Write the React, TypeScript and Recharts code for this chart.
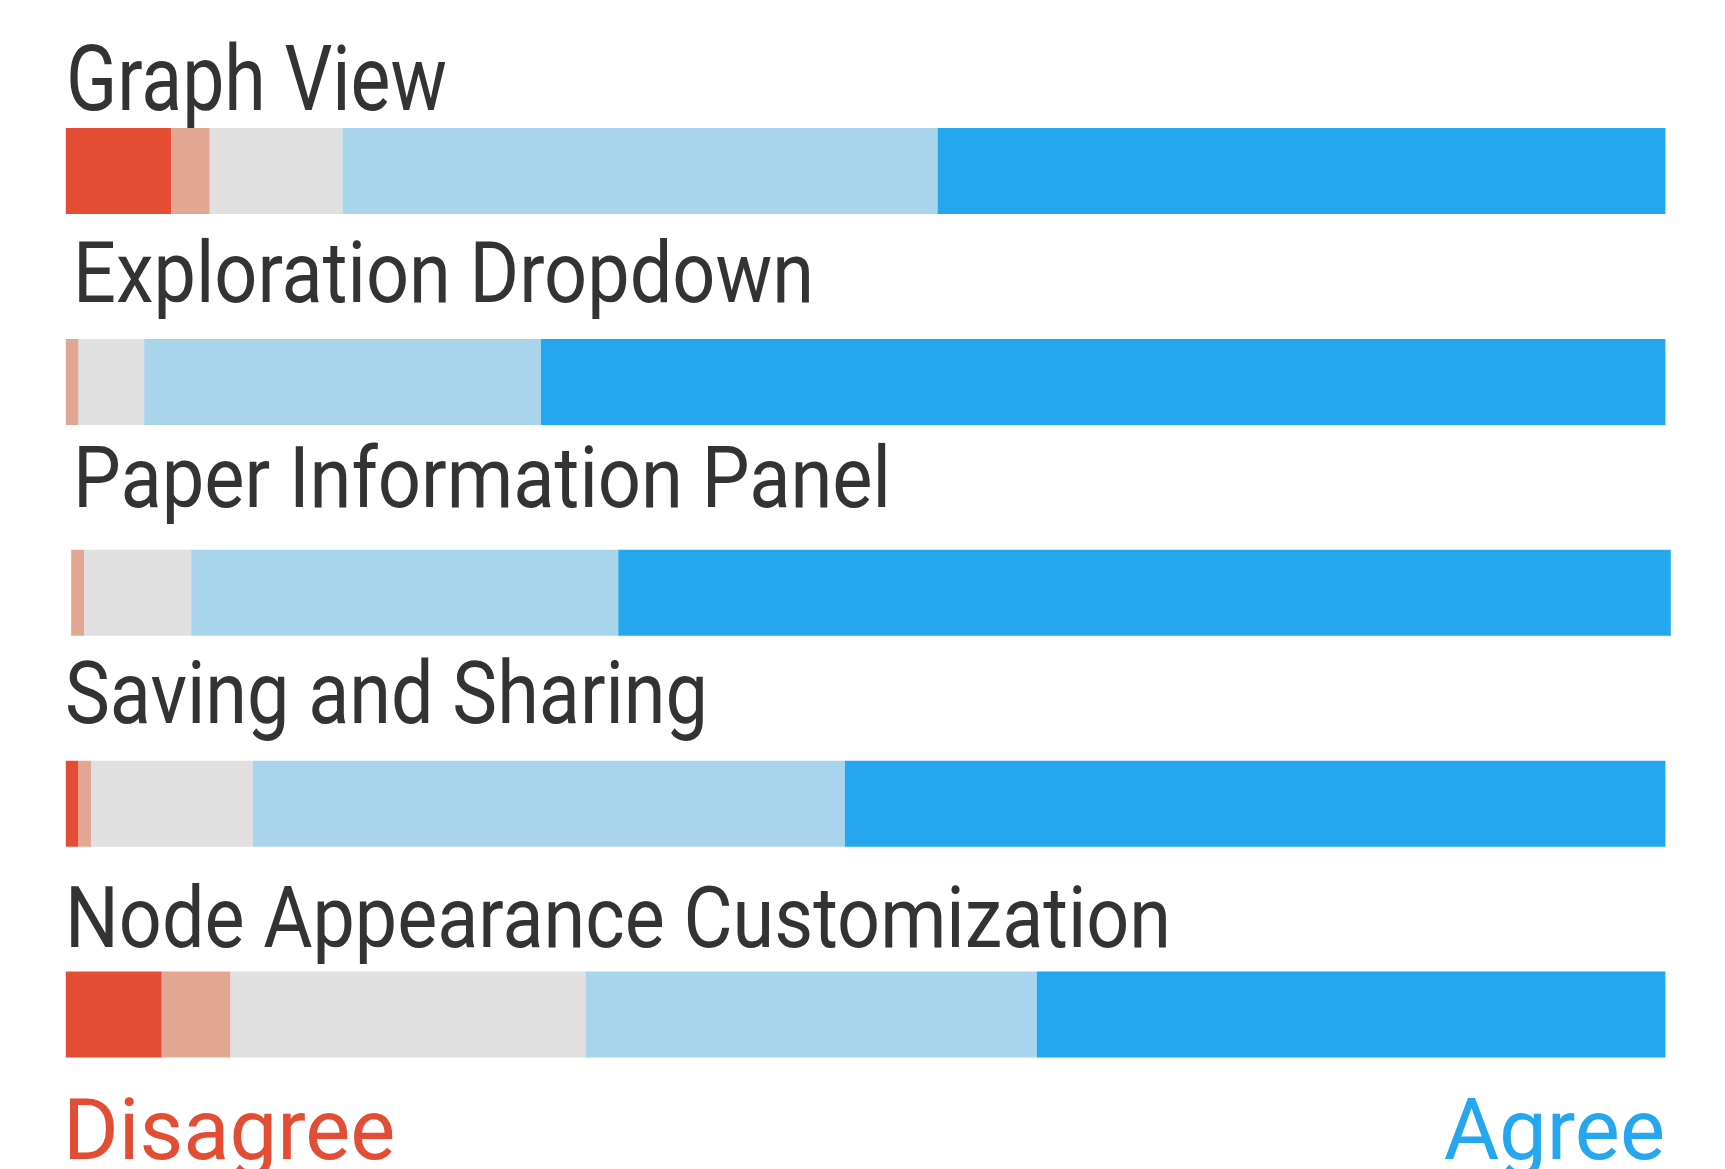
import React from 'react';
import { BarChart, Bar, XAxis, YAxis, Rectangle, LabelList } from 'recharts';

// survey features, one row each
const features = [
  'Graph View',
  'Exploration Dropdown',
  'Paper Information Panel',
  'Saving and Sharing',
  'Node Appearance Customization',
];

// share of answers per Likert level (%)
const stronglyDisagree = [6.6, 0, 0, 0.8, 6.0];
const disagree = [2.4, 0.8, 0.8, 0.8, 4.3];
const neutral = [8.3, 4.1, 6.7, 10.1, 22.2];
const agree = [37.2, 24.8, 26.7, 37.0, 28.2];
const stronglyAgree = [45.5, 70.3, 65.8, 51.3, 39.3];

const levels = [
  { key: 'stronglyDisagree', values: stronglyDisagree, color: '#E24D33' },
  { key: 'disagree', values: disagree, color: '#E2A793' },
  { key: 'neutral', values: neutral, color: '#E0E0E0' },
  { key: 'agree', values: agree, color: '#A8D5EC' },
  { key: 'stronglyAgree', values: stronglyAgree, color: '#24A7EF' },
];

const data = features.map((name, i) => {
  const row: Record<string, string | number> = { name };
  levels.forEach(l => { row[l.key] = l.values[i]; });
  return row;
});

// hand-placed layout of the original figure
const W = 1725;
const H = 1169;
const rowShift = [0, 0, 5.4, 0, 0];
const titleLayout = [
  { x: 66, width: 381, dy: -18.5, size: 90 },
  { x: 73, width: 741, dy: -37, size: 85 },
  { x: 73, width: 818, dy: -42.5, size: 85 },
  { x: 65, width: 643, dy: -37.5, size: 87 },
  { x: 65, width: 1106, dy: -24.5, size: 86 },
];
const FONT = { fontFamily: 'Roboto, sans-serif', fontWeight: 400 };

const Title = (props: any) => {
  const i = props.index;
  const t = titleLayout[i];
  if (!t) return null;
  return (
    <text
      x={t.x}
      y={props.y + t.dy}
      style={{ ...FONT, fontSize: t.size }}
      fill="#333333"
      stroke="none"
      textLength={t.width}
      lengthAdjust="spacingAndGlyphs"
    >
      {features[i]}
    </text>
  );
};

const ShiftedBar = (props: any) => {
  if (!props.width) return null;
  return <Rectangle {...props} x={props.x + (rowShift[props.index] ?? 0)} />;
};

export default function App() {
  return (
    <div style={{ position: 'absolute', left: 0, top: 0, width: W, height: H, background: '#fff', overflow: 'hidden' }}>
      <BarChart
        width={W}
        height={H}
        data={data}
        layout="vertical"
        margin={{ top: 66, bottom: 48.5, left: 65.8, right: W - 1665.4 }}
      >
        <XAxis type="number" domain={[0, 100]} hide />
        <YAxis type="category" dataKey="name" hide />
        {levels.map((l, k) => (
          <Bar
            key={l.key}
            dataKey={l.key}
            stackId="a"
            fill={l.color}
            barSize={86}
            isAnimationActive={false}
            shape={<ShiftedBar />}
          >
            {k === levels.length - 1 && <LabelList dataKey="name" content={<Title />} />}
          </Bar>
        ))}
      </BarChart>
      <svg width={W} height={H} style={{ position: 'absolute', left: 0, top: 0, pointerEvents: 'none' }}>
        <text x={63} y={1159} style={{ ...FONT, fontSize: 85 }} fill="#E24D33" stroke="none">Disagree</text>
        <text x={1665} y={1159} style={{ ...FONT, fontSize: 85 }} fill="#24A7EF" stroke="none" textAnchor="end">Agree</text>
      </svg>
    </div>
  );
}
